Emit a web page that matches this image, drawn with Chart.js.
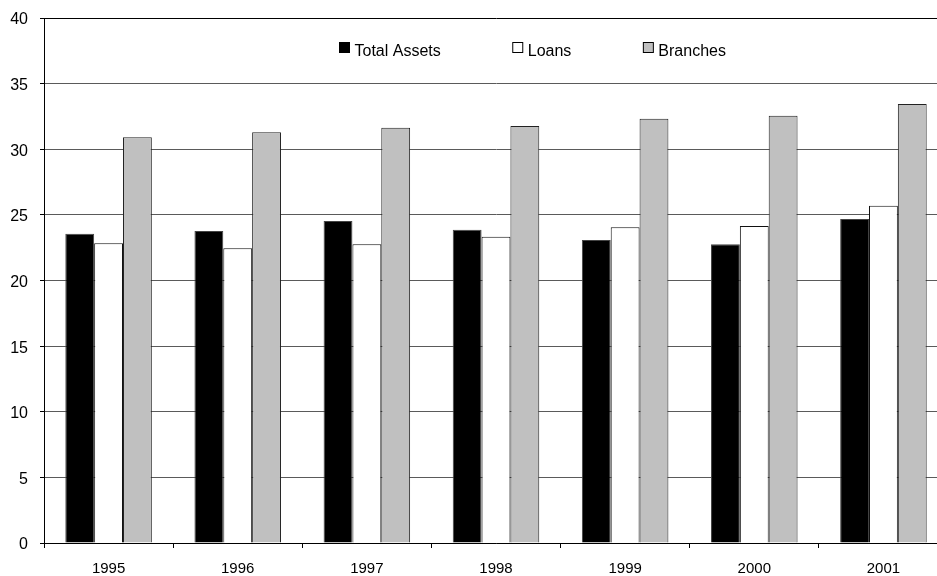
<!DOCTYPE html>
<html>
<head>
<meta charset="utf-8">
<script src="https://cdn.jsdelivr.net/npm/chart.js@4/dist/chart.umd.min.js"></script>
<style>
  html, body { margin: 0; padding: 0; background: #fff; overflow: hidden; }
  #wrap { width: 937px; height: 576px; overflow: hidden; position: relative; }
  #c { display: block; }
</style>
</head>
<body>
<div id="wrap"><canvas id="c" width="950" height="576"></canvas></div>
<script>
// Years on the category axis
const years = ['1995', '1996', '1997', '1998', '1999', '2000', '2001'];

// Series values
const totalAssets = [23.57, 23.77, 24.53, 23.87, 23.09, 22.76, 24.69];
const loans       = [22.83, 22.45, 22.76, 23.34, 24.05, 24.15, 25.70];
const branches    = [30.91, 31.29, 31.64, 31.77, 32.33, 32.56, 33.45];

// Value axis ticks
const yTicks = [0, 5, 10, 15, 20, 25, 30, 35, 40];

const FAMILY = '"Liberation Sans", Arial, sans-serif';

// Legend drawn inside the plot, in one row near the top
const inlineLegend = {
  id: 'inlineLegend',
  afterDraw(chart) {
    const ctx = chart.ctx;
    ctx.save();
    ctx.font = '16px ' + FAMILY;
    ctx.textBaseline = 'alphabetic';
    ctx.textAlign = 'left';
    let x = 339.5;
    const boxTop = 42.5;
    chart.data.datasets.forEach(ds => {
      ctx.fillStyle = ds.backgroundColor;
      ctx.fillRect(x, boxTop, 10, 10);
      ctx.strokeStyle = '#000';
      ctx.lineWidth = 1;
      ctx.strokeRect(x, boxTop, 10, 10);
      ctx.fillStyle = '#000';
      ctx.fillText(ds.label, x + 15, 56);
      x += 15 + ctx.measureText(ds.label).width + 72;
    });
    ctx.restore();
  }
};

new Chart(document.getElementById('c'), {
  type: 'bar',
  data: {
    labels: years,
    datasets: [
      { label: 'Total Assets', data: totalAssets, backgroundColor: '#000000', borderColor: '#444', borderWidth: 1 },
      { label: 'Loans', data: loans, backgroundColor: '#ffffff', borderColor: '#111', borderWidth: 1 },
      { label: 'Branches', data: branches, backgroundColor: '#c0c0c0', borderColor: '#222', borderWidth: 1 }
    ]
  },
  options: {
    responsive: false,
    animation: false,
    devicePixelRatio: 1,
    layout: { padding: { top: 18, right: 2, bottom: 0, left: 0 } },
    datasets: { bar: { categoryPercentage: 0.67, barPercentage: 1.0 } },
    plugins: {
      legend: { display: false },
      tooltip: { enabled: false }
    },
    scales: {
      x: {
        offset: true,
        grid: {
          offset: true,
          display: true,
          drawOnChartArea: false,
          drawTicks: true,
          tickLength: 5,
          tickColor: '#000',
          lineWidth: 1
        },
        border: { display: true, color: '#000', width: 1 },
        ticks: { color: '#000', font: { family: FAMILY, size: 15 }, padding: 12, maxRotation: 0 },
        afterFit(scale) {
          scale.height = 33;
          scale.paddingLeft = 0;
          scale.paddingRight = 0;
        }
      },
      y: {
        min: 0,
        max: 40,
        afterBuildTicks(scale) { scale.ticks = yTicks.map(v => ({ value: v })); },
        grid: {
          color: ctx => (ctx.tick && ctx.tick.value === 40) ? '#000' : '#5a5a5a',
          lineWidth: 1,
          drawTicks: true,
          tickLength: 4,
          tickColor: '#000'
        },
        border: { display: true, color: '#000', width: 1 },
        ticks: { color: '#000', font: { family: FAMILY, size: 16 }, padding: 12, labelOffset: 2 },
        afterFit(scale) {
          scale.width = 44;
          scale.paddingTop = 0;
          scale.paddingBottom = 0;
        }
      }
    }
  },
  plugins: [inlineLegend]
});
</script>
</body>
</html>
